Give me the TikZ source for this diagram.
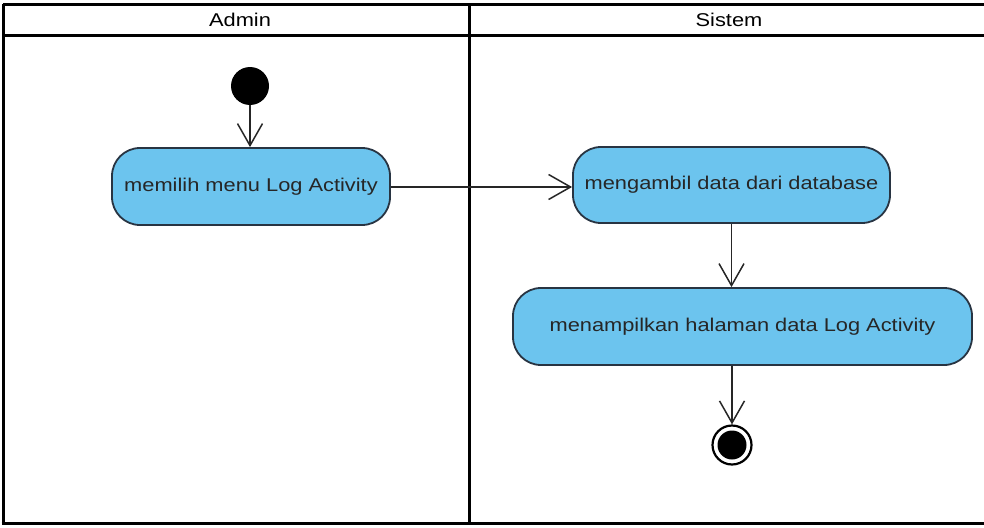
\documentclass[tikz,border=0pt]{standalone}
\usepackage{fontspec}
\setmainfont{Liberation Sans}[FakeStretch=1.18]
\usetikzlibrary{arrows.meta}
\definecolor{actfill}{RGB}{108,196,238}
\definecolor{actline}{RGB}{40,52,66}
\begin{document}
\begin{tikzpicture}[x=1pt,y=-1pt,
  lane/.style={line width=3pt,black},
  action/.style={draw=actline,fill=actfill,line width=1.8pt,rounded corners=28pt,
    inner sep=0pt,font=\fontsize{18.5}{20}\selectfont,text=black!85},
  flow/.style={line width=1.5pt,black!85,-{Straight Barb[length=22pt,width=25pt,line width=1.5pt]}},
  hdr/.style={font=\fontsize{18.5}{20}\selectfont}]
\useasboundingbox (0,0) rectangle (984,527);
% swimlanes
\draw[lane] (3,4.5) -- (990,4.5);
\draw[lane] (3,35.5) -- (990,35.5);
\draw[lane] (3,4.5) -- (3,523);
\draw[lane] (1.5,523) -- (990,523);
\draw[lane] (469,4.5) -- (469,523);
\node[hdr] (hadmin) at (240,20) {Admin};
\node[hdr] (hsistem) at (729,20) {Sistem};
% nodes
\node[circle,fill=black,minimum size=38pt,inner sep=0pt] (start) at (250,86) {};
\node[action,minimum width=278pt,minimum height=77pt] (a1) at (251,186.5) {memilih menu Log Activity};
\node[action,minimum width=317pt,minimum height=76pt] (a2) at (731.5,185) {mengambil data dari database};
\node[action,minimum width=459pt,minimum height=77pt] (a3) at (742.5,326.5) {menampilkan halaman data Log Activity};
\node[circle,draw=black,line width=2.2pt,fill=white,minimum size=39pt,inner sep=0pt] (end) at (732,445) {};
\fill[black] (end.center) circle (14.5pt);
% flows
\draw[flow] (start.south) -- (start.south |- a1.north);
\draw[flow] (a1.east |- 0,187) -- (a2.west |- 0,187);
\draw[flow] (a2.south) -- (a2.south |- a3.north);
\draw[flow] (end.north |- a3.south) -- (end.north);
\end{tikzpicture}
\end{document}
